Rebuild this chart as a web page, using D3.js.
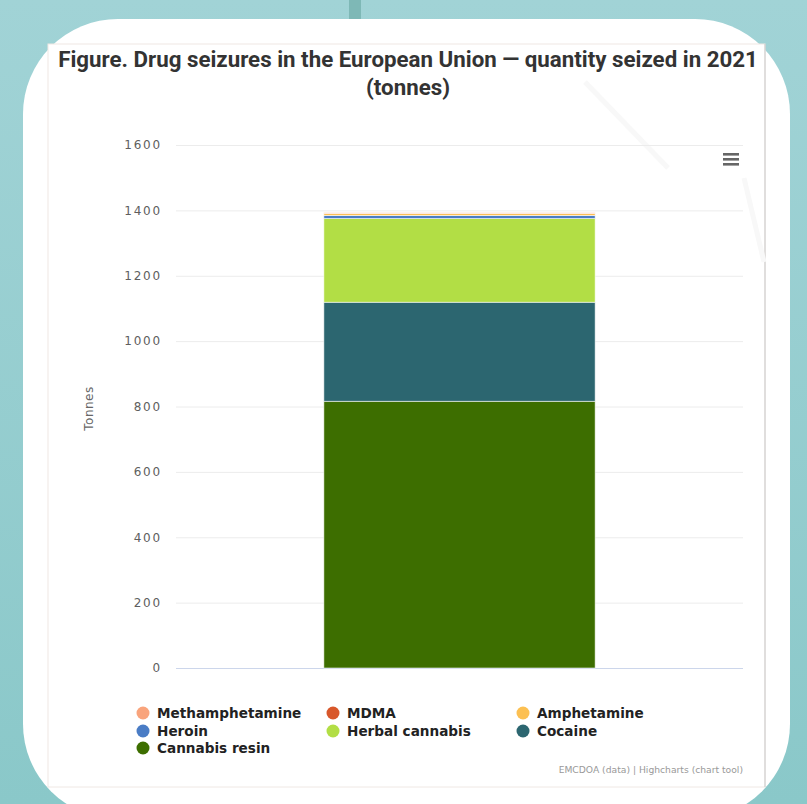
<!DOCTYPE html>
<html>
<head>
<meta charset="utf-8">
<script src="https://cdn.jsdelivr.net/npm/d3@7"></script>
<style>
  html, body { margin: 0; padding: 0; background: #9ccfd1; }
  svg { display: block; }
</style>
</head>
<body>
<svg id="chart" width="807" height="804"></svg>
<script>
// ----- data -----
const categories = ["2021"];
// stacking order, bottom to top
const seriesNames = ["Cannabis resin", "Cocaine", "Herbal cannabis", "Heroin", "Amphetamine", "MDMA", "Methamphetamine"];
const seriesValues = [816, 303, 256, 9.5, 5.6, 1.1, 2.2];
const seriesColors = ["#3d6e00", "#2c6670", "#b2de45", "#4a7cc5", "#fcc052", "#d8572a", "#f9a47c"];
// legend order as shown under the chart
const legendOrder = ["Methamphetamine", "MDMA", "Amphetamine", "Heroin", "Herbal cannabis", "Cocaine", "Cannabis resin"];
const yTicks = [0, 200, 400, 600, 800, 1000, 1200, 1400, 1600];

const svg = d3.select("svg#chart");

// ----- page background + card -----
const defs = svg.append("defs");
const grad = defs.append("linearGradient").attr("id", "bg").attr("x1", 0).attr("y1", 0).attr("x2", 0).attr("y2", 1);
grad.append("stop").attr("offset", "0%").attr("stop-color", "#a1d3d6");
grad.append("stop").attr("offset", "100%").attr("stop-color", "#8ac8c9");
svg.append("rect").attr("width", 807).attr("height", 804).attr("fill", "url(#bg)");
svg.append("rect").attr("x", 349).attr("y", 0).attr("width", 12).attr("height", 20).attr("fill", "#7eb8b6");

svg.append("rect")
  .attr("x", 23).attr("y", 19)
  .attr("width", 767).attr("height", 800)
  .attr("rx", 95).attr("ry", 95)
  .attr("fill", "#fff");

// chart image frame
svg.append("rect")
  .attr("x", 48).attr("y", 44)
  .attr("width", 717).attr("height", 743)
  .attr("fill", "#fff")
  .attr("stroke", "#efe8e4").attr("stroke-width", 1);
svg.append("line")
  .attr("x1", 765).attr("x2", 765).attr("y1", 44).attr("y2", 787)
  .attr("stroke", "#c9c9c9");

// faint watermark strokes
svg.append("path").attr("d", "M585,82 L668,168").attr("stroke", "#f8f8f8").attr("stroke-width", 5).attr("fill", "none");
svg.append("path").attr("d", "M744,178 L764,262").attr("stroke", "#f8f8f8").attr("stroke-width", 5).attr("fill", "none");

// ----- title -----
svg.append("text")
  .attr("x", 408).attr("y", 67)
  .attr("text-anchor", "middle")
  .attr("font-family", "Roboto, sans-serif")
  .attr("font-weight", "bold")
  .attr("font-size", 22.3)
  .attr("fill", "#333")
  .text("Figure. Drug seizures in the European Union — quantity seized in 2021");
svg.append("text")
  .attr("x", 408).attr("y", 95)
  .attr("text-anchor", "middle")
  .attr("font-family", "Roboto, sans-serif")
  .attr("font-weight", "bold")
  .attr("font-size", 22.3)
  .attr("fill", "#333")
  .text("(tonnes)");

// ----- scales -----
const plotLeft = 176, plotRight = 743, plotTop = 145, plotBottom = 668;

var y = d3.scaleLinear().domain([0, 1600]).range([plotBottom, plotTop]);
var x = d3.scaleBand().domain(categories).range([plotLeft, plotRight]).paddingOuter(0.545).paddingInner(0);

// grid
var grid = svg.append("g");
grid.selectAll("line.grid")
  .data(yTicks)
  .join("line")
  .attr("class", "grid")
  .attr("x1", plotLeft).attr("x2", plotRight)
  .attr("y1", d => y(d) + 0.5).attr("y2", d => y(d) + 0.5)
  .attr("stroke", d => d === 0 ? "#ccd6eb" : "#ececec")
  .attr("stroke-width", 1);

// y axis labels via d3 axis
var yAxis = svg.append("g")
  .attr("transform", `translate(${plotLeft - 14},0)`)
  .call(d3.axisLeft(y).tickValues(yTicks).tickSize(0).tickPadding(0).tickFormat(d3.format("d")));
yAxis.select(".domain").remove();
yAxis.selectAll("text")
  .attr("font-family", "'DejaVu Sans', sans-serif")
  .attr("font-size", 12)
  .attr("letter-spacing", "1.8px")
  .attr("fill", "#5e5e5e");

svg.append("text")
  .attr("transform", `translate(93,${(plotTop + plotBottom) / 2 + 2}) rotate(-90)`)
  .attr("text-anchor", "middle")
  .attr("font-family", "'DejaVu Sans', sans-serif")
  .attr("font-size", 12)
  .attr("letter-spacing", "0.5px")
  .attr("fill", "#666")
  .text("Tonnes");

// ----- stacked bar -----
var rows = categories.map(c => {
  var r = { cat: c };
  seriesNames.forEach((s, i) => (r[s] = seriesValues[i]));
  return r;
});
var stack = d3.stack().keys(seriesNames)(rows);
var colorScale = d3.scaleOrdinal().domain(seriesNames).range(seriesColors);

var bars = svg.append("g");
bars.selectAll("g.series")
  .data(stack)
  .join("g")
  .attr("class", "series")
  .attr("fill", d => colorScale(d.key))
  .selectAll("rect")
  .data(d => d)
  .join("rect")
  .attr("x", d => x(d.data.cat))
  .attr("width", x.bandwidth())
  .attr("y", d => y(d[1]))
  .attr("height", d => y(d[0]) - y(d[1]))
  .attr("stroke", "#fff")
  .attr("stroke-opacity", 0.7)
  .attr("stroke-width", 0.8);

// ----- menu icon -----
var menu = svg.append("g");
menu.selectAll("rect")
  .data([0, 1, 2])
  .join("rect")
  .attr("x", 723).attr("y", d => 153 + d * 5)
  .attr("width", 16).attr("height", 2.6)
  .attr("fill", "#666");

// ----- legend -----
var legendX = [143, 333, 523];
var legendY = [713, 731, 748];
var legend = svg.append("g");
var items = legend.selectAll("g.item")
  .data(legendOrder)
  .join("g")
  .attr("class", "item")
  .attr("transform", (d, i) => `translate(${legendX[i % 3]},${legendY[Math.floor(i / 3)]})`);
items.append("circle")
  .attr("r", 6.5)
  .attr("fill", d => colorScale(d));
items.append("text")
  .attr("x", 14).attr("y", 5)
  .attr("font-family", "'DejaVu Sans', sans-serif")
  .attr("font-weight", "bold")
  .attr("font-size", 13.6)
  .attr("fill", "#222")
  .text(d => d);

// ----- credits -----
svg.append("text")
  .attr("x", 743).attr("y", 773)
  .attr("text-anchor", "end")
  .attr("font-family", "'DejaVu Sans', sans-serif")
  .attr("font-size", 9.2)
  .attr("fill", "#999")
  .text("EMCDOA (data) | Highcharts (chart tool)");
</script>
</body>
</html>
